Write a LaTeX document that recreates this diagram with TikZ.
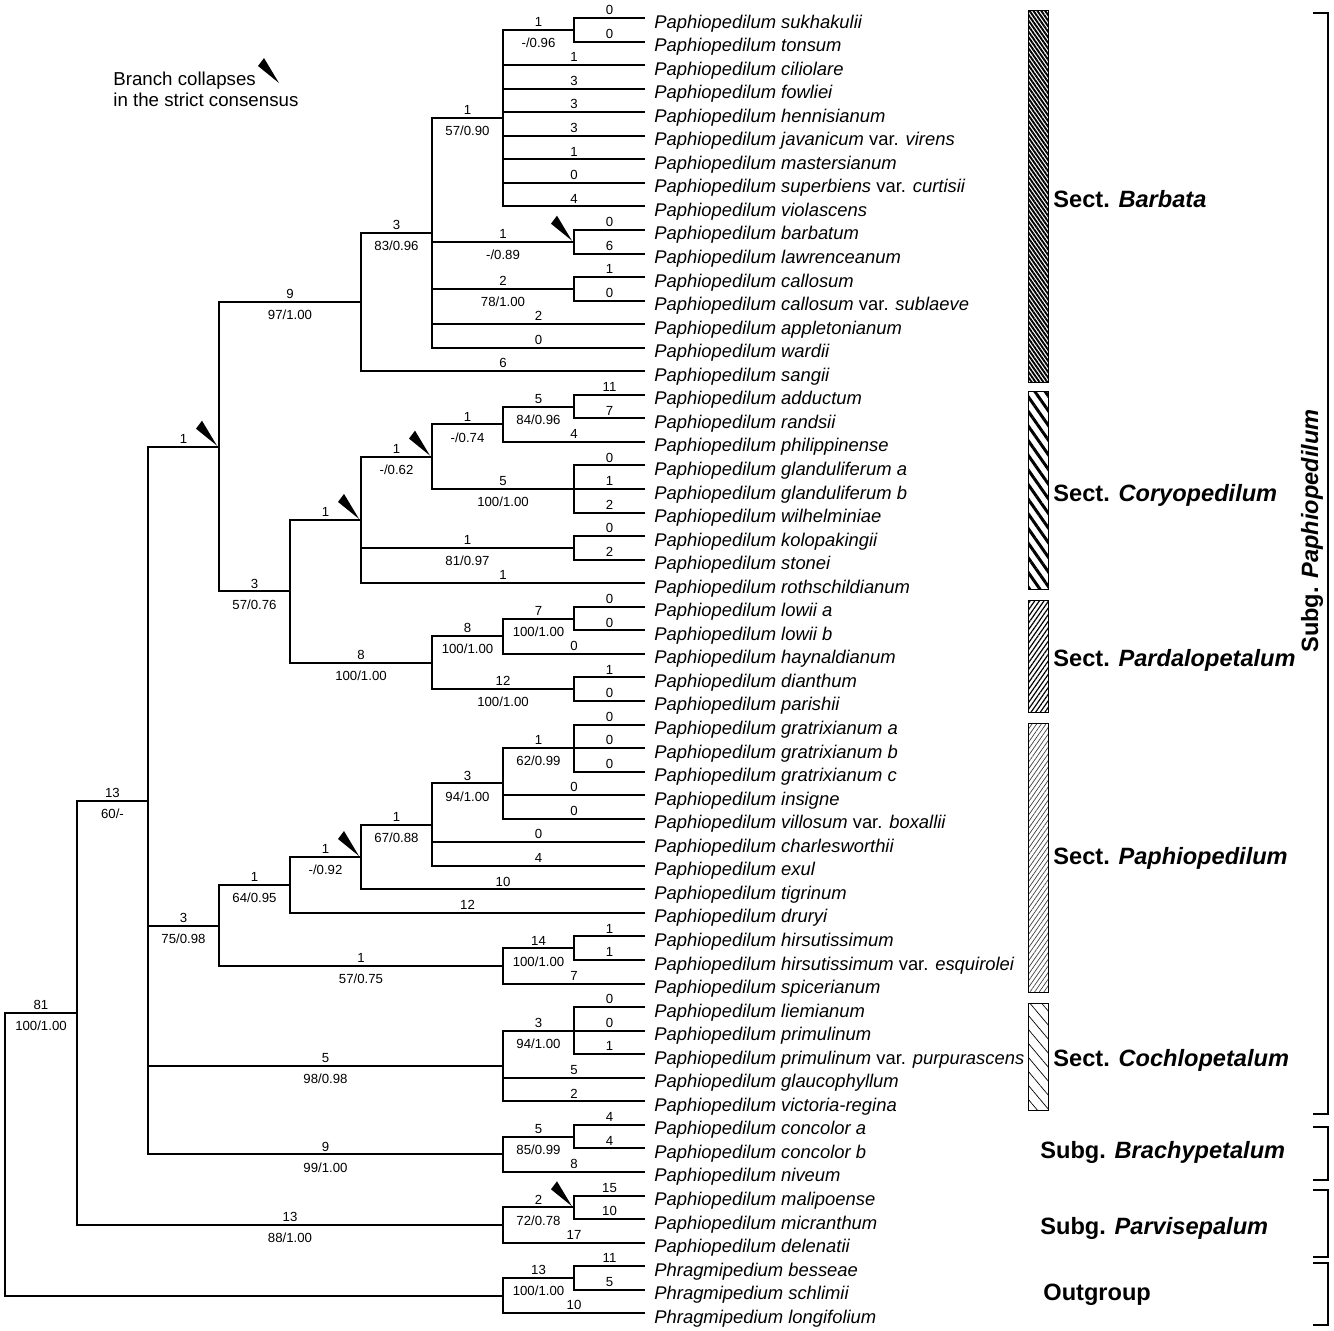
\documentclass[tikz,border=0pt]{standalone}
\usepackage{fontspec}
\setmainfont{Liberation Sans}
\usetikzlibrary{patterns.meta}
\newcommand\brch[4]{\draw[br] (#1) |- node[cnt,pos=0.75]{#3} node[sup,pos=0.75]{#4} (#2);}
\newcommand\wdg[1]{\fill (#1) ++(-2,-1) -- ++(-21,-17) -- ++(6,-8) -- cycle;}
\begin{document}
\begin{tikzpicture}[x=0.5pt,y=-0.5pt,
  br/.style={line width=1pt},
  cnt/.style={font=\fontsize{6.6}{7}\selectfont, anchor=base, inner sep=0pt, yshift=1.65pt},
  sup/.style={font=\fontsize{6.6}{7}\selectfont, anchor=base, inner sep=0pt, yshift=-8.85pt},
  taxon/.style={font=\fontsize{9.2}{10}\selectfont\itshape, anchor=base west, inner sep=0pt},
  sect/.style={font=\fontsize{11.8}{13}\selectfont\bfseries, anchor=base west, inner sep=0pt},
  legend/.style={font=\fontsize{9.35}{11}\selectfont, anchor=base west, inner sep=0pt},
  bar/.style={draw=black, line width=0.5pt, preaction={fill=white}},
  brk/.style={line width=0.8pt},
]
\useasboundingbox (0,0) rectangle (1334,1330);

% leaves and taxon names
\foreach \tx [count=\i] in {
{Paphiopedilum sukhakulii},
{Paphiopedilum tonsum},
{Paphiopedilum ciliolare},
{Paphiopedilum fowliei},
{Paphiopedilum hennisianum},
{Paphiopedilum javanicum \textup{var.} virens},
{Paphiopedilum mastersianum},
{Paphiopedilum superbiens \textup{var.} curtisii},
{Paphiopedilum violascens},
{Paphiopedilum barbatum},
{Paphiopedilum lawrenceanum},
{Paphiopedilum callosum},
{Paphiopedilum callosum \textup{var.} sublaeve},
{Paphiopedilum appletonianum},
{Paphiopedilum wardii},
{Paphiopedilum sangii},
{Paphiopedilum adductum},
{Paphiopedilum randsii},
{Paphiopedilum philippinense},
{Paphiopedilum glanduliferum a},
{Paphiopedilum glanduliferum b},
{Paphiopedilum wilhelminiae},
{Paphiopedilum kolopakingii},
{Paphiopedilum stonei},
{Paphiopedilum rothschildianum},
{Paphiopedilum lowii a},
{Paphiopedilum lowii b},
{Paphiopedilum haynaldianum},
{Paphiopedilum dianthum},
{Paphiopedilum parishii},
{Paphiopedilum gratrixianum a},
{Paphiopedilum gratrixianum b},
{Paphiopedilum gratrixianum c},
{Paphiopedilum insigne},
{Paphiopedilum villosum \textup{var.} boxallii},
{Paphiopedilum charlesworthii},
{Paphiopedilum exul},
{Paphiopedilum tigrinum},
{Paphiopedilum druryi},
{Paphiopedilum hirsutissimum},
{Paphiopedilum hirsutissimum \textup{var.} esquirolei},
{Paphiopedilum spicerianum},
{Paphiopedilum liemianum},
{Paphiopedilum primulinum},
{Paphiopedilum primulinum \textup{var.} purpurascens},
{Paphiopedilum glaucophyllum},
{Paphiopedilum victoria-regina},
{Paphiopedilum concolor a},
{Paphiopedilum concolor b},
{Paphiopedilum niveum},
{Paphiopedilum malipoense},
{Paphiopedilum micranthum},
{Paphiopedilum delenatii},
{Phragmipedium besseae},
{Phragmipedium schlimii},
{Phragmipedium longifolium}}{
  \coordinate (l\i) at (645, {18+(\i-1)*23.55});
  \node[taxon] (t\i) at (654, {28+(\i-1)*23.55}) {\tx};
}

% internal nodes
\coordinate (root) at (5,1154.2);
\coordinate (A) at (77,1012.7);
\coordinate (B) at (148,800.5);
\coordinate (C) at (219,446.7);
\coordinate (D) at (290,591.3);
\coordinate (E) at (361,302);
\coordinate (F) at (432,232.9);
\coordinate (G) at (503,118);
\coordinate (H) at (574,29.8);
\coordinate (I) at (574,241.7);
\coordinate (J) at (574,288.8);
\coordinate (K) at (361,519.9);
\coordinate (M) at (432,456.6);
\coordinate (N) at (574,547.9);
\coordinate (O) at (503,424.3);
\coordinate (Q) at (574,489);
\coordinate (R) at (574,406.6);
\coordinate (P) at (432,662.7);
\coordinate (S) at (503,636.2);
\coordinate (T) at (574,689.2);
\coordinate (U) at (574,618.5);
\coordinate (V) at (219,925.5);
\coordinate (W) at (290,885);
\coordinate (Z) at (361,857);
\coordinate (AA) at (432,824.6);
\coordinate (AB) at (503,783.4);
\coordinate (AC) at (574,748.1);
\coordinate (X) at (503,966);
\coordinate (Y) at (574,948.3);
\coordinate (AD) at (503,1066);
\coordinate (AE) at (574,1030.7);
\coordinate (AF) at (503,1154.3);
\coordinate (AG) at (574,1136.7);
\coordinate (AH) at (503,1225);
\coordinate (AI) at (574,1207.3);
\coordinate (AJ) at (503,1295.6);
\coordinate (AK) at (574,1278);

% branches
\brch{root}{A}{81}{100/1.00}
\brch{root}{AJ}{}{}
\brch{A}{B}{13}{60/-}
\brch{A}{AH}{13}{88/1.00}
\brch{B}{C}{1}{}
\brch{B}{V}{3}{75/0.98}
\brch{B}{AD}{5}{98/0.98}
\brch{B}{AF}{9}{99/1.00}
\brch{C}{E}{9}{97/1.00}
\brch{C}{D}{3}{57/0.76}
\brch{E}{F}{3}{83/0.96}
\brch{E}{l16}{6}{}
\brch{F}{G}{1}{57/0.90}
\brch{F}{I}{1}{-/0.89}
\brch{F}{J}{2}{78/1.00}
\brch{F}{l14}{2}{}
\brch{F}{l15}{0}{}
\brch{G}{H}{1}{-/0.96}
\foreach \k/\c in {3/1,4/3,5/3,6/3,7/1,8/0,9/4}{\brch{G}{l\k}{\c}{}}
\brch{H}{l1}{0}{}
\brch{H}{l2}{0}{}
\brch{I}{l10}{0}{}
\brch{I}{l11}{6}{}
\brch{J}{l12}{1}{}
\brch{J}{l13}{0}{}
\brch{D}{K}{1}{}
\brch{D}{P}{8}{100/1.00}
\brch{K}{M}{1}{-/0.62}
\brch{K}{N}{1}{81/0.97}
\brch{K}{l25}{1}{}
\brch{M}{O}{1}{-/0.74}
\brch{M}{Q}{5}{100/1.00}
\brch{O}{R}{5}{84/0.96}
\brch{O}{l19}{4}{}
\brch{R}{l17}{11}{}
\brch{R}{l18}{7}{}
\brch{Q}{l20}{0}{}
\brch{Q}{l21}{1}{}
\brch{Q}{l22}{2}{}
\brch{N}{l23}{0}{}
\brch{N}{l24}{2}{}
\brch{P}{S}{8}{100/1.00}
\brch{P}{T}{12}{100/1.00}
\brch{S}{U}{7}{100/1.00}
\brch{S}{l28}{0}{}
\brch{U}{l26}{0}{}
\brch{U}{l27}{0}{}
\brch{T}{l29}{1}{}
\brch{T}{l30}{0}{}
\brch{V}{W}{1}{64/0.95}
\brch{V}{X}{1}{57/0.75}
\brch{W}{Z}{1}{-/0.92}
\brch{W}{l39}{12}{}
\brch{Z}{AA}{1}{67/0.88}
\brch{Z}{l38}{10}{}
\brch{AA}{AB}{3}{94/1.00}
\brch{AA}{l36}{0}{}
\brch{AA}{l37}{4}{}
\brch{AB}{AC}{1}{62/0.99}
\brch{AB}{l34}{0}{}
\brch{AB}{l35}{0}{}
\brch{AC}{l31}{0}{}
\brch{AC}{l32}{0}{}
\brch{AC}{l33}{0}{}
\brch{X}{Y}{14}{100/1.00}
\brch{X}{l42}{7}{}
\brch{Y}{l40}{1}{}
\brch{Y}{l41}{1}{}
\brch{AD}{AE}{3}{94/1.00}
\brch{AD}{l46}{5}{}
\brch{AD}{l47}{2}{}
\brch{AE}{l43}{0}{}
\brch{AE}{l44}{0}{}
\brch{AE}{l45}{1}{}
\brch{AF}{AG}{5}{85/0.99}
\brch{AF}{l50}{8}{}
\brch{AG}{l48}{4}{}
\brch{AG}{l49}{4}{}
\brch{AH}{AI}{2}{72/0.78}
\brch{AH}{l53}{17}{}
\brch{AI}{l51}{15}{}
\brch{AI}{l52}{10}{}
\brch{AJ}{AK}{13}{100/1.00}
\brch{AJ}{l56}{10}{}
\brch{AK}{l54}{11}{}
\brch{AK}{l55}{5}{}

% collapse wedges
\wdg{C}
\wdg{K}
\wdg{M}
\wdg{I}
\wdg{Z}
\wdg{AI}

% legend
\node[legend] (lg1) at (113,85) {Branch collapses};
\node[legend] (lg2) at (113,106) {in the strict consensus};
\coordinate (lgw) at (281,84);
\wdg{lgw}

% section bars
\path[bar, pattern={Lines[angle=-55,distance=1.6pt,line width=0.95pt]}, pattern color=black] (1028,10) rectangle (1048,382);
\path[bar, pattern={Lines[angle=-55,distance=4.2pt,line width=1.5pt]}] (1028,391) rectangle (1048,589);
\path[bar, pattern={Lines[angle=55,distance=1.9pt,line width=0.6pt]}] (1028,600) rectangle (1048,712);
\path[bar, pattern={Lines[angle=55,distance=1.9pt,line width=0.35pt]}, pattern color=black!75] (1028,723) rectangle (1048,992);
\path[bar, pattern={Lines[angle=-50,distance=4.5pt,line width=0.35pt]}] (1028,1003) rectangle (1048,1110);

% section labels
\node[sect] (sBar) at (1053,207) {Sect. \textit{Barbata}};
\node[sect] (sCor) at (1053,501) {Sect. \textit{Coryopedilum}};
\node[sect] (sPar) at (1053,666) {Sect. \textit{Pardalopetalum}};
\node[sect] (sPap) at (1053,864) {Sect. \textit{Paphiopedilum}};
\node[sect] (sCoc) at (1053,1066) {Sect. \textit{Cochlopetalum}};
\node[sect] (gBra) at (1040,1158) {Subg. \textit{Brachypetalum}};
\node[sect] (gPar) at (1040,1234) {Subg. \textit{Parvisepalum}};
\node[sect] (gOut) at (1043,1300) {Outgroup};
\node[font=\fontsize{11.8}{13}\selectfont\bfseries, rotate=90, inner sep=0pt] (gPap) at (1312,531) {Subg. \textit{Paphiopedilum}};

% brackets
\draw[brk] (1313,13) -- (1328,13) -- (1328,1114) -- (1313,1114);
\draw[brk] (1313,1127) -- (1328,1127) -- (1328,1180) -- (1313,1180);
\draw[brk] (1313,1190) -- (1328,1190) -- (1328,1257) -- (1313,1257);
\draw[brk] (1313,1263) -- (1328,1263) -- (1328,1325) -- (1313,1325);
\end{tikzpicture}
\end{document}
